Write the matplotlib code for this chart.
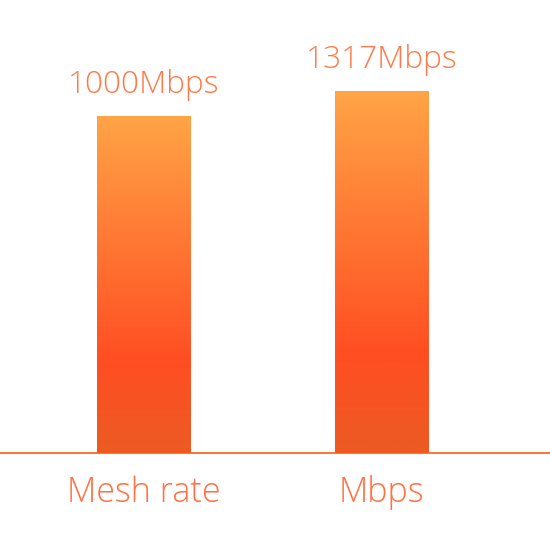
import numpy as np
import matplotlib
matplotlib.use("Agg")
import matplotlib.pyplot as plt
from matplotlib.colors import LinearSegmentedColormap

categories = ["Mesh rate", "Mbps"]
values = [1000, 1317]
value_labels = ["1000Mbps", "1317Mbps"]

plt.rcParams['font.family'] = ['Open Sans', 'DejaVu Sans']

fig = plt.figure(figsize=(5.5, 5.5), dpi=100)
ax = fig.add_axes([0, 1 - 453 / 550, 1, 453 / 550])
ax.set_yscale('log')
ax.set_ylim(23.26, 3633)
ax.set_xlim(-0.606, 1.709)

x = np.arange(len(categories))
bars = ax.bar(x, values, width=0.392, color='none', edgecolor='none')

cmap = LinearSegmentedColormap.from_list(
    'g', [(0.0, '#EC5B22'), (0.27, '#FF4E22'), (1.0, '#FFA446')])
grad = np.linspace(0, 1, 256).reshape(-1, 1)
inv = ax.transAxes.inverted()
for b in bars:
    x0 = b.get_x()
    x1 = x0 + b.get_width()
    top = b.get_height()
    xa0, ytop = inv.transform(ax.transData.transform((x0, top)))
    xa1, _ = inv.transform(ax.transData.transform((x1, top)))
    im = ax.imshow(grad, cmap=cmap, origin='lower', aspect='auto',
                   extent=(xa0, xa1, 0, ytop), transform=ax.transAxes,
                   zorder=2)
    im.set_clip_path(b)

for xi, v, lab in zip(x, values, value_labels):
    ax.annotate(lab, (xi, v), xytext=(0, 16.5), textcoords='offset points',
                ha='center', va='baseline', fontsize=22.8, color='#FF7A4A',
                fontweight='light')

for xi, cat in zip(x, categories):
    ax.annotate(cat, (xi, 0), xycoords=('data', 'axes fraction'),
                xytext=(0, -35.3), textcoords='offset points',
                ha='center', va='baseline', fontsize=24.5, color='#FF7043',
                fontweight='light')

ax.set_xticks([])
ax.set_yticks([])
ax.minorticks_off()
for s in ['top', 'left', 'right']:
    ax.spines[s].set_visible(False)
ax.spines['bottom'].set_color('#FF5A14')
ax.spines['bottom'].set_linewidth(1.2)
ax.spines['bottom'].set_zorder(5)

fig.savefig('out.png', dpi=100)
